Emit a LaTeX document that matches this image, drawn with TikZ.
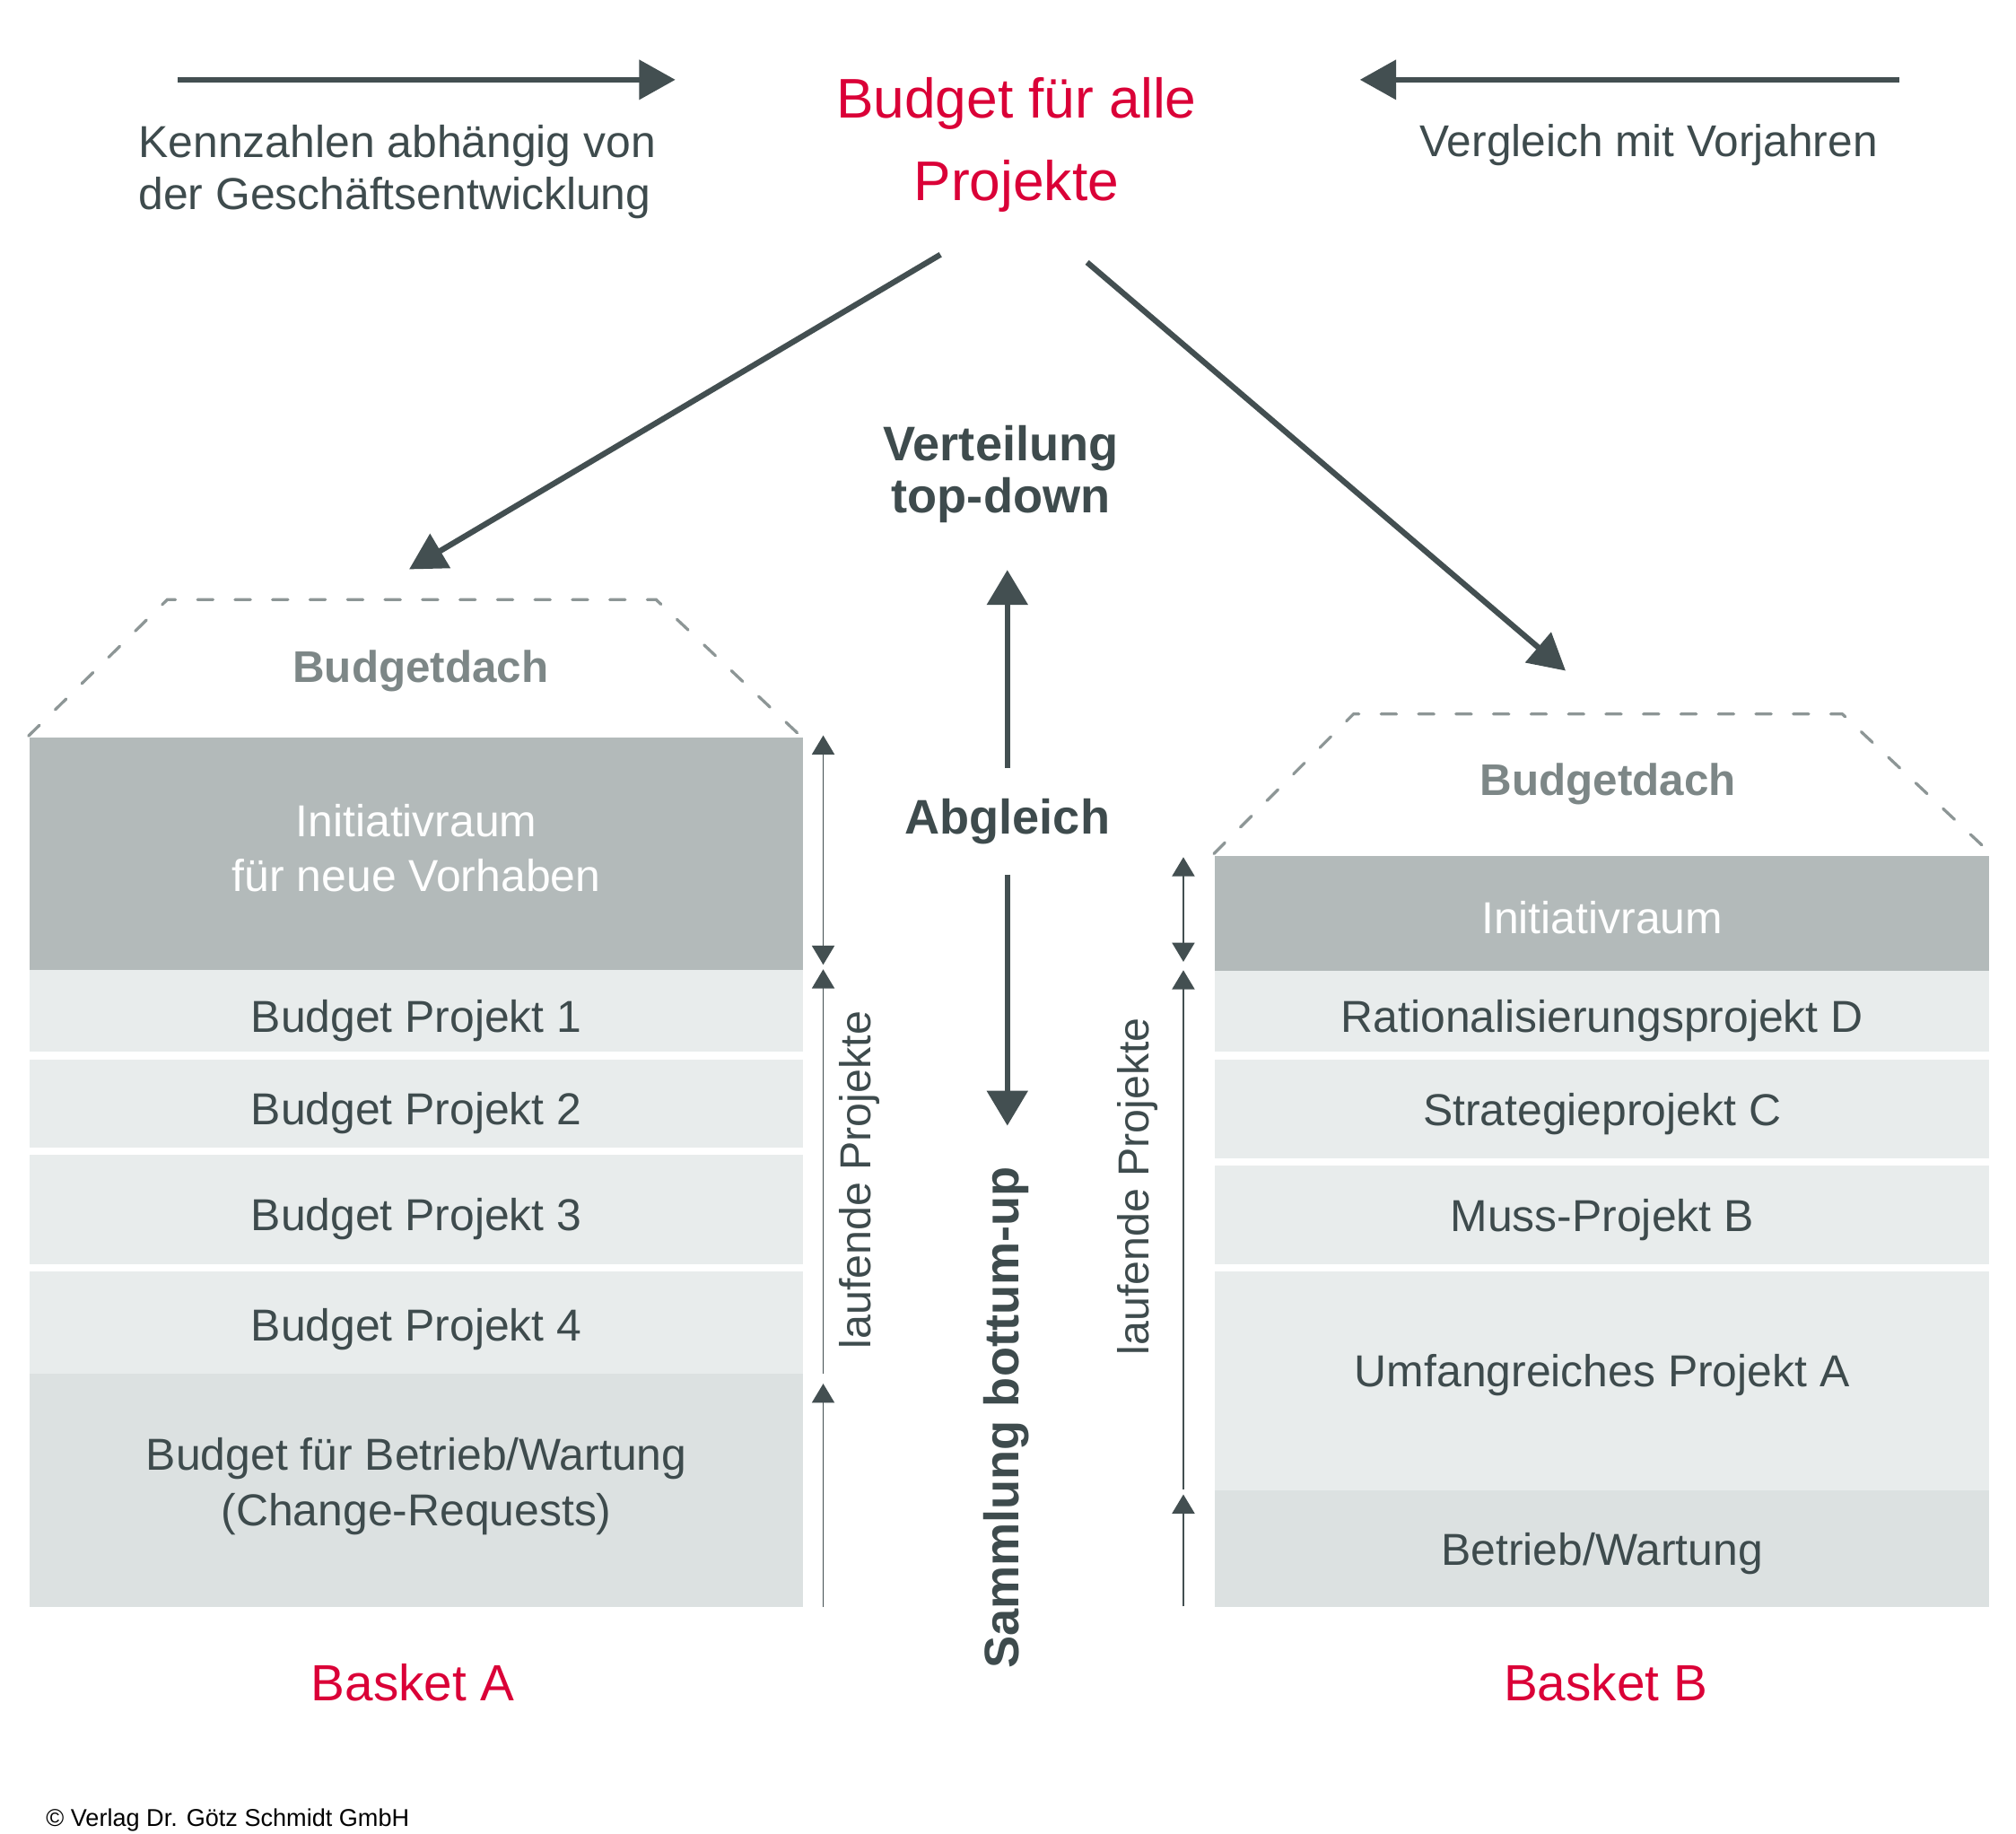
\documentclass[tikz,border=0pt]{standalone}
\usepackage{fontspec}
\setmainfont{Liberation Sans}
\usetikzlibrary{arrows.meta}
\definecolor{txtgray}{RGB}{62,75,77}
\definecolor{arrgray}{RGB}{67,79,81}
\definecolor{budgetred}{RGB}{218,0,55}
\definecolor{roofgray}{RGB}{141,150,150}
\definecolor{dachgray}{RGB}{125,135,135}
\definecolor{inifill}{RGB}{179,186,186}
\definecolor{projfill}{RGB}{232,236,236}
\definecolor{betrfill}{RGB}{220,225,225}
\tikzset{
  boxtext/.style={font=\fontsize{9.85}{12.2}\selectfont, text=txtgray},
  cell/.style={boxtext, anchor=north west, inner sep=0pt, minimum width=59.9mm, align=center},
  onecell/.style={cell, text height=9.4pt, text depth=0pt},
  sidetext/.style={font=\fontsize{9.55}{11}\selectfont, text=txtgray, rotate=90, inner sep=0pt},
  midtext/.style={font=\fontsize{10.7}{11.5}\selectfont\bfseries, text=txtgray, align=center, inner sep=0pt},
  dachtext/.style={font=\fontsize{9.75}{12}\selectfont\bfseries, text=dachgray, inner sep=0pt},
  baskettext/.style={font=\fontsize{11.2}{13}\selectfont, text=budgetred, inner sep=0pt},
  roof/.style={draw=roofgray, line width=0.65pt, line cap=round, dash pattern=on 1.2mm off 1.7mm},
  bigarrow/.style={draw=arrgray, line width=1.25pt, -{Triangle[length=2.8mm,width=3mm]}},
  sidearrow/.style={draw=arrgray, line width=0.35pt, >={Triangle[length=1.48mm,width=1.74mm]}}
}
\begin{document}
\begin{tikzpicture}[x=0.1mm, y=-0.1mm]
  \useasboundingbox (0,0) rectangle (1560,1419);

  % oben
  \node[font=\fontsize{12.3}{18.3}\selectfont, text=budgetred, align=center, inner sep=0pt] (title) at (786.5,112) {Budget für alle\\Projekte};
  \node[boxtext, font=\fontsize{9.85}{11.35}\selectfont, align=left, anchor=west, inner sep=0pt] (kennz) at (106.5,133) {Kennzahlen abhängig von\\der Geschäftsentwicklung};
  \node[boxtext, font=\fontsize{9.8}{11.35}\selectfont, anchor=west, inner sep=0pt] (vergl) at (1098,112) {Vergleich mit Vorjahren};
  \coordinate (kzStart) at (137.5,61.7);
  \coordinate (kzEnd) at (522.6,61.7);
  \coordinate (vjStart) at (1469.5,61.7);
  \coordinate (vjEnd) at (1052.3,61.7);
  \draw[bigarrow] (kzStart) -- (kzEnd);
  \draw[bigarrow] (vjStart) -- (vjEnd);

  % Verteilung
  \coordinate (distA0) at (727.7,197);
  \coordinate (distA1) at (316.6,440.5);
  \coordinate (distB0) at (841.2,203);
  \coordinate (distB1) at (1211.5,519);
  \draw[bigarrow] (distA0) -- (distA1);
  \draw[bigarrow] (distB0) -- (distB1);

  % Mitte
  \node[midtext] (verteil) at (774.5,367) {Verteilung\\top-down};
  \node[midtext, minimum height=8.1mm] (abgl) at (779.5,635.5) {Abgleich};
  \node[midtext, rotate=90] (samml) at (778.5,1097) {Sammlung bottum-up};
  \coordinate (upTip) at (779.5,441);
  \coordinate (downTip) at (779.5,871);
  \draw[bigarrow, -{Triangle[length=2.7mm,width=3.1mm]}] (abgl.north) -- (upTip);
  \draw[bigarrow, -{Triangle[length=2.7mm,width=3.1mm]}] (abgl.south) -- (downTip);

  % Basket A
  \draw[roof] (22,569.5) -- (129.4,464) -- (507.7,464) -- (619.5,569.5);
  \node[dachtext] (dachA) at (325.5,519) {Budgetdach};
  \node[cell, fill=inifill, minimum height=18.0mm] (iniA) at (22,570) {};
  \node[boxtext, text=white, align=center, inner sep=0pt, yshift=1.3pt] (iniAtext) at (iniA.center) {Initiativraum\\für neue Vorhaben};
  \node[onecell, fill=projfill, minimum height=6.3mm] (projA1) at (22,750) {Budget Projekt 1};
  \node[onecell, fill=projfill, minimum height=6.8mm] (projA2) at (22,819) {Budget Projekt 2};
  \node[onecell, fill=projfill, minimum height=8.43mm] (projA3) at (22,893) {Budget Projekt 3};
  \node[onecell, fill=projfill, minimum height=7.87mm, text depth=1.4pt] (projA4) at (22,983.3) {Budget Projekt 4};
  \node[cell, fill=betrfill, minimum height=18.1mm] (betrA) at (22,1062) {};
  \node[boxtext, align=center, inner sep=0pt, yshift=0.85pt] (betrAtext) at (betrA.center) {Budget für Betrieb/Wartung\\(Change-Requests)};
  \node[baskettext] (basketA) at (319.6,1302) {Basket A};

  \coordinate (sideA0) at (637,569);
  \coordinate (sideA1) at (637,746.5);
  \coordinate (sideA2) at (637,750);
  \coordinate (sideA3) at (637,1063);
  \coordinate (sideA4) at (637,1070.6);
  \coordinate (sideA5) at (637,1243.5);
  \draw[sidearrow, <->] (sideA0) -- (sideA1);
  \draw[sidearrow, ->] (sideA3) -- (sideA2);
  \draw[sidearrow, ->] (sideA5) -- (sideA4);
  \node[sidetext] (laufA) at (665,913) {laufende Projekte};

  % Basket B
  \draw[roof] (939.4,660.5) -- (1047.3,552.5) -- (1425.6,552.5) -- (1539,659);
  \node[dachtext] (dachB) at (1244.4,606.5) {Budgetdach};
  \node[onecell, fill=inifill, text=white, minimum height=8.94mm, text depth=0.6pt] (iniB) at (939.5,661.3) {Initiativraum};
  \node[onecell, fill=projfill, minimum height=6.23mm] (projD) at (939.5,750.7) {Rationalisierungsprojekt D};
  \node[onecell, fill=projfill, minimum height=7.64mm, text depth=1.9pt] (projC) at (939.5,819) {Strategieprojekt C};
  \node[onecell, fill=projfill, minimum height=7.61mm, text depth=1.9pt] (projB) at (939.5,901.2) {Muss-Projekt B};
  \node[onecell, fill=projfill, minimum height=16.91mm, text depth=6.7pt] (projA) at (939.5,983.2) {Umfangreiches Projekt A};
  \node[onecell, fill=betrfill, minimum height=9.05mm, text depth=1.9pt] (betrB) at (939.5,1152.3) {Betrieb/Wartung};
  \node[baskettext] (basketB) at (1242.4,1302) {Basket B};

  \coordinate (sideB0) at (915.7,663.2);
  \coordinate (sideB1) at (915.7,744.2);
  \coordinate (sideB2) at (915.7,750.7);
  \coordinate (sideB3) at (915.7,1152.8);
  \coordinate (sideB4) at (915.7,1156.3);
  \coordinate (sideB5) at (915.7,1243);
  \draw[sidearrow, <->] (sideB0) -- (sideB1);
  \draw[sidearrow, ->] (sideB3) -- (sideB2);
  \draw[sidearrow, ->] (sideB5) -- (sideB4);
  \node[sidetext] (laufB) at (880,918) {laufende Projekte};

  \node[font=\fontsize{5.35}{6}\selectfont, anchor=west, inner sep=0pt] (copyr) at (35,1408) {© Verlag Dr. Götz Schmidt GmbH};
\end{tikzpicture}
\end{document}
